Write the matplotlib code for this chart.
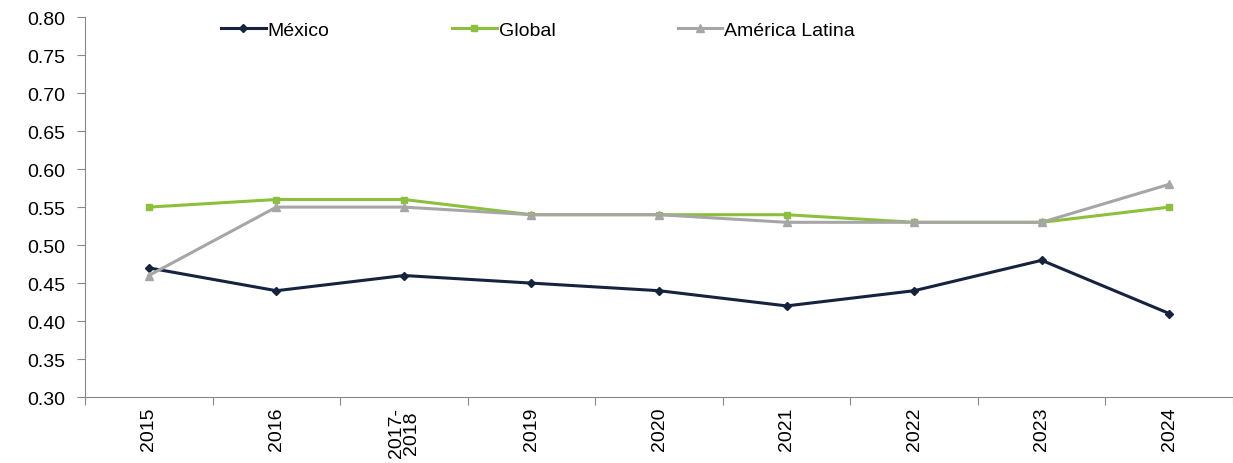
import numpy as np
import matplotlib.pyplot as plt

plt.rcParams['font.family'] = ['Liberation Sans', 'DejaVu Sans']

years = ['2015', '2016', '2017-\n2018', '2019', '2020', '2021', '2022', '2023', '2024']
mexico = [0.47, 0.44, 0.46, 0.45, 0.44, 0.42, 0.44, 0.48, 0.41]
global_ = [0.55, 0.56, 0.56, 0.54, 0.54, 0.54, 0.53, 0.53, 0.55]
latam = [0.46, 0.55, 0.55, 0.54, 0.54, 0.53, 0.53, 0.53, 0.58]

fig = plt.figure(figsize=(12.33, 4.64), dpi=100)
ax = fig.add_axes([0.069, 0.142, 0.931, 0.819])

x = np.arange(len(years)) + 0.5
ax.plot(x, mexico, color='#16233f', lw=2.2, marker='D', ms=4, label='México')
ax.plot(x, global_, color='#8cc03c', lw=2.2, marker='s', ms=5, label='Global')
ax.plot(x, latam, color='#a6a6a6', lw=2.2, marker='^', ms=6, label='América Latina')

ax.set_xlim(0, len(years))
ax.set_ylim(0.30, 0.80)
yt = np.arange(0.30, 0.801, 0.05)
ax.set_yticks(yt)
ax.set_yticklabels(['%.2f' % v for v in yt], fontsize=14)

ax.set_xticks(np.arange(len(years) + 1))
ax.set_xticklabels([])
ax.set_xticks(x, minor=True)
ax.set_xticklabels(years, minor=True, rotation=90, fontsize=14, linespacing=0.85)
ax.tick_params(axis='x', which='minor', length=0, pad=7)
ax.tick_params(axis='x', which='major', length=6, color='#888888')
ax.tick_params(axis='y', length=6, color='#888888', pad=8)

for s in ['top', 'right']:
    ax.spines[s].set_visible(False)
for s in ['left', 'bottom']:
    ax.spines[s].set_color('#888888')

ax.legend(loc='upper left', bbox_to_anchor=(0.103, 1.035), ncol=3, frameon=False,
          fontsize=14, handlelength=2.3, handletextpad=0.1, columnspacing=6.3)

fig.savefig('out.png', dpi=100)
